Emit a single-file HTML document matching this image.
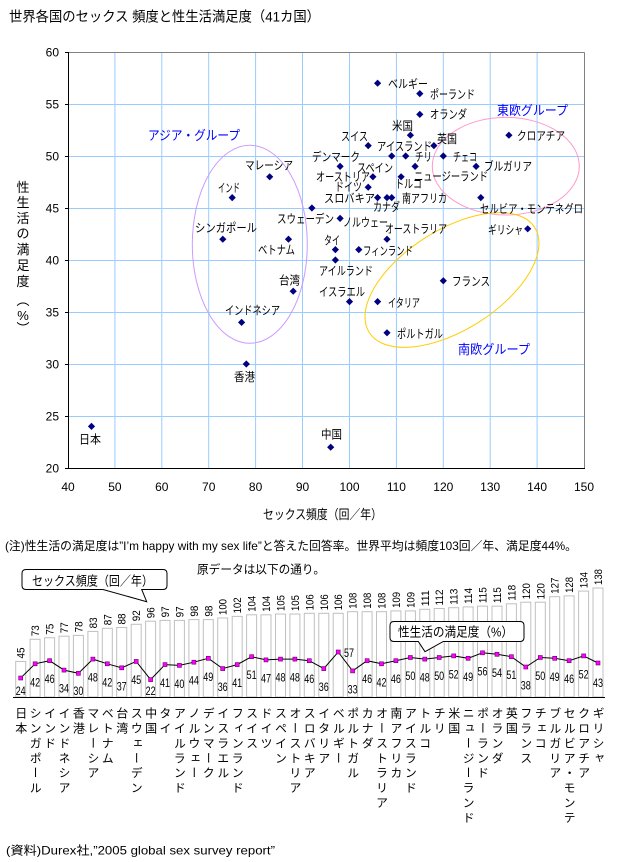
<!DOCTYPE html>
<html><head><meta charset="utf-8"><style>
html,body{margin:0;padding:0;background:#fff}
#w{position:relative;width:621px;height:862px;overflow:hidden;background:#fff;font-family:"Liberation Sans","Noto Sans CJK JP",sans-serif}
svg{position:absolute;left:0;top:0}
.cn{position:absolute;top:707px;width:14px;height:120px;overflow:hidden;writing-mode:vertical-rl;white-space:nowrap;font-size:12px;line-height:14px;letter-spacing:2.9px;color:#000;font-family:"Liberation Sans","Noto Sans CJK JP",sans-serif}
</style></head><body><div id="w">
<svg width="621" height="862" viewBox="0 0 621 862" xmlns="http://www.w3.org/2000/svg" font-family="Liberation Sans, Noto Sans CJK JP, sans-serif">
<defs><path id="dm" d="M0,-3.6 L3.6,0 L0,3.6 L-3.6,0 Z" fill="#000080"/></defs>
<text x="9" y="21.3" font-size="14" textLength="311" lengthAdjust="spacingAndGlyphs">世界各国のセックス 頻度と性生活満足度（41カ国）</text>
<!-- grid -->
<g stroke="#99ccff" stroke-width="1">
<line x1="114.9" y1="52" x2="114.9" y2="468"/><line x1="161.8" y1="52" x2="161.8" y2="468"/><line x1="208.7" y1="52" x2="208.7" y2="468"/><line x1="255.6" y1="52" x2="255.6" y2="468"/><line x1="302.5" y1="52" x2="302.5" y2="468"/><line x1="349.5" y1="52" x2="349.5" y2="468"/><line x1="396.4" y1="52" x2="396.4" y2="468"/><line x1="443.3" y1="52" x2="443.3" y2="468"/><line x1="490.2" y1="52" x2="490.2" y2="468"/><line x1="537.1" y1="52" x2="537.1" y2="468"/>
<line x1="68" y1="104.5" x2="584" y2="104.5"/><line x1="68" y1="156.5" x2="584" y2="156.5"/><line x1="68" y1="208.5" x2="584" y2="208.5"/><line x1="68" y1="260.5" x2="584" y2="260.5"/><line x1="68" y1="312.5" x2="584" y2="312.5"/><line x1="68" y1="364.5" x2="584" y2="364.5"/><line x1="68" y1="416.5" x2="584" y2="416.5"/>
</g>
<g stroke="#808080" stroke-width="1"><line x1="68" y1="52.5" x2="584.5" y2="52.5"/><line x1="584.5" y1="52.5" x2="584.5" y2="468"/></g>
<g stroke="#000" stroke-width="1">
<line x1="68.5" y1="52" x2="68.5" y2="469"/><line x1="68" y1="468.5" x2="585" y2="468.5"/>
<line x1="65" y1="52.5" x2="68" y2="52.5"/><line x1="65" y1="104.5" x2="68" y2="104.5"/><line x1="65" y1="156.5" x2="68" y2="156.5"/><line x1="65" y1="208.5" x2="68" y2="208.5"/><line x1="65" y1="260.5" x2="68" y2="260.5"/><line x1="65" y1="312.5" x2="68" y2="312.5"/><line x1="65" y1="364.5" x2="68" y2="364.5"/><line x1="65" y1="416.5" x2="68" y2="416.5"/><line x1="65" y1="468.5" x2="68" y2="468.5"/>
</g>
<g font-size="12" text-anchor="end">
<text x="59" y="56.3">60</text><text x="59" y="108.3">55</text><text x="59" y="160.3">50</text><text x="59" y="212.3">45</text><text x="59" y="264.3">40</text><text x="59" y="316.3">35</text><text x="59" y="368.3">30</text><text x="59" y="420.3">25</text><text x="59" y="472.3">20</text>
</g>
<g font-size="12" text-anchor="middle">
<text x="68" y="491">40</text><text x="114.9" y="491">50</text><text x="161.8" y="491">60</text><text x="208.7" y="491">70</text><text x="255.6" y="491">80</text><text x="302.5" y="491">90</text><text x="349.5" y="491">100</text><text x="396.4" y="491">110</text><text x="443.3" y="491">120</text><text x="490.2" y="491">130</text><text x="537.1" y="491">140</text><text x="584" y="491">150</text>
</g>
<text x="263" y="519" font-size="13" textLength="119" lengthAdjust="spacingAndGlyphs">セックス頻度（回／年）</text>
<g font-size="13" text-anchor="middle">
<text x="23" y="192">性</text><text x="23" y="207">生</text><text x="23" y="223">活</text><text x="23" y="238">の</text><text x="23" y="254">満</text><text x="23" y="270">足</text><text x="23" y="286">度</text><text x="23" y="305">︵</text><text x="23" y="320">%</text><text x="23" y="333">︶</text>
</g>
<!-- ellipses -->
<g fill="none" stroke-width="1">
<ellipse cx="249.8" cy="244.3" rx="57.5" ry="99" stroke="#cc99ff"/>
<ellipse cx="505.8" cy="166.2" rx="73.5" ry="48.8" stroke="#ff99cc"/>
<ellipse cx="452" cy="280" rx="98" ry="50" transform="rotate(-32.4 452 280)" stroke="#ffcc00"/>
</g>
<!-- points -->
<g>
<use href="#dm" x="91.5" y="426.4"/><use href="#dm" x="222.8" y="239.2"/><use href="#dm" x="232.2" y="197.6"/><use href="#dm" x="241.6" y="322.4"/><use href="#dm" x="246.3" y="364"/><use href="#dm" x="269.7" y="176.8"/><use href="#dm" x="288.5" y="239.2"/><use href="#dm" x="293.2" y="291.2"/><use href="#dm" x="311.9" y="208"/><use href="#dm" x="330.7" y="447.2"/><use href="#dm" x="335.4" y="249.6"/><use href="#dm" x="335.4" y="260"/><use href="#dm" x="340.1" y="218.4"/><use href="#dm" x="340.1" y="166.4"/><use href="#dm" x="349.5" y="301.6"/><use href="#dm" x="358.8" y="249.6"/><use href="#dm" x="368.2" y="145.6"/><use href="#dm" x="368.2" y="187.2"/><use href="#dm" x="372.9" y="176.8"/><use href="#dm" x="377.6" y="197.6"/><use href="#dm" x="377.6" y="301.6"/><use href="#dm" x="377.6" y="83.2"/><use href="#dm" x="387" y="332.8"/><use href="#dm" x="387" y="197.6"/><use href="#dm" x="387" y="239.2"/><use href="#dm" x="391.7" y="197.6"/><use href="#dm" x="391.7" y="156"/><use href="#dm" x="401.1" y="176.8"/><use href="#dm" x="405.7" y="156"/><use href="#dm" x="410.4" y="135.2"/><use href="#dm" x="415.1" y="166.4"/><use href="#dm" x="419.8" y="93.6"/><use href="#dm" x="419.8" y="114.4"/><use href="#dm" x="433.9" y="145.6"/><use href="#dm" x="443.3" y="280.8"/><use href="#dm" x="443.3" y="156"/><use href="#dm" x="476.1" y="166.4"/><use href="#dm" x="480.8" y="197.6"/><use href="#dm" x="508.9" y="135.2"/><use href="#dm" x="527.7" y="228.8"/>
</g>
<g font-size="12" lengthAdjust="spacingAndGlyphs">
<text x="388" y="87.8" textLength="40" lengthAdjust="spacingAndGlyphs">ベルギー</text>
<text x="430" y="98.5" textLength="45" lengthAdjust="spacingAndGlyphs">ポーランド</text>
<text x="430" y="118.5" textLength="37" lengthAdjust="spacingAndGlyphs">オランダ</text>
<text x="392" y="129.8" textLength="21" lengthAdjust="spacingAndGlyphs">米国</text>
<text x="341" y="140.5" textLength="27" lengthAdjust="spacingAndGlyphs">スイス</text>
<text x="377" y="150.5" textLength="55" lengthAdjust="spacingAndGlyphs">アイスランド</text>
<text x="437" y="143.2" textLength="20" lengthAdjust="spacingAndGlyphs">英国</text>
<text x="517" y="139.8" textLength="48" lengthAdjust="spacingAndGlyphs">クロアチア</text>
<text x="312" y="161.2" textLength="48" lengthAdjust="spacingAndGlyphs">デンマーク</text>
<text x="415" y="161.2" textLength="17" lengthAdjust="spacingAndGlyphs">チリ</text>
<text x="453" y="161.2" textLength="24" lengthAdjust="spacingAndGlyphs">チェコ</text>
<text x="357" y="171.8" textLength="36" lengthAdjust="spacingAndGlyphs">スペイン</text>
<text x="484" y="170.5" textLength="48" lengthAdjust="spacingAndGlyphs">ブルガリア</text>
<text x="316" y="181.2" textLength="54" lengthAdjust="spacingAndGlyphs">オーストリア</text>
<text x="414" y="180.5" textLength="74" lengthAdjust="spacingAndGlyphs">ニュージーランド</text>
<text x="395" y="187.8" textLength="27" lengthAdjust="spacingAndGlyphs">トルコ</text>
<text x="335" y="191.2" textLength="27" lengthAdjust="spacingAndGlyphs">ドイツ</text>
<text x="324" y="202.5" textLength="51" lengthAdjust="spacingAndGlyphs">スロバキア</text>
<text x="402" y="202.5" textLength="45" lengthAdjust="spacingAndGlyphs">南アフリカ</text>
<text x="373" y="211.2" textLength="27" lengthAdjust="spacingAndGlyphs">カナダ</text>
<text x="480" y="212.8" textLength="103" lengthAdjust="spacingAndGlyphs">セルビア・モンテネグロ</text>
<text x="277" y="222.8" textLength="57" lengthAdjust="spacingAndGlyphs">スウェーデン</text>
<text x="343" y="226.5" textLength="45" lengthAdjust="spacingAndGlyphs">ノルウェー</text>
<text x="385" y="232.8" textLength="62" lengthAdjust="spacingAndGlyphs">オーストラリア</text>
<text x="488" y="233.8" textLength="35" lengthAdjust="spacingAndGlyphs">ギリシャ</text>
<text x="324" y="244.5" textLength="16" lengthAdjust="spacingAndGlyphs">タイ</text>
<text x="363" y="255.2" textLength="50" lengthAdjust="spacingAndGlyphs">フィンランド</text>
<text x="319" y="275.2" textLength="54" lengthAdjust="spacingAndGlyphs">アイルランド</text>
<text x="245" y="169.5" textLength="48" lengthAdjust="spacingAndGlyphs">マレーシア</text>
<text x="218" y="192.2" textLength="22" lengthAdjust="spacingAndGlyphs">インド</text>
<text x="195" y="232.2" textLength="62" lengthAdjust="spacingAndGlyphs">シンガポール</text>
<text x="258" y="253.8" textLength="37" lengthAdjust="spacingAndGlyphs">ベトナム</text>
<text x="279" y="284.5" textLength="21" lengthAdjust="spacingAndGlyphs">台湾</text>
<text x="225" y="314.5" textLength="55" lengthAdjust="spacingAndGlyphs">インドネシア</text>
<text x="234" y="381.2" textLength="21" lengthAdjust="spacingAndGlyphs">香港</text>
<text x="79" y="443.5" textLength="22" lengthAdjust="spacingAndGlyphs">日本</text>
<text x="452" y="285.5" textLength="38" lengthAdjust="spacingAndGlyphs">フランス</text>
<text x="319" y="296.2" textLength="46" lengthAdjust="spacingAndGlyphs">イスラエル</text>
<text x="388" y="306.8" textLength="32" lengthAdjust="spacingAndGlyphs">イタリア</text>
<text x="397" y="337.8" textLength="46" lengthAdjust="spacingAndGlyphs">ポルトガル</text>
<text x="321" y="438.5" textLength="21" lengthAdjust="spacingAndGlyphs">中国</text>
</g>
<g font-size="13" fill="#0000ff">
<text x="148" y="140" textLength="92" lengthAdjust="spacingAndGlyphs">アジア・グループ</text>
<text x="497" y="115" textLength="71" lengthAdjust="spacingAndGlyphs">東欧グループ</text>
<text x="458" y="354" textLength="72" lengthAdjust="spacingAndGlyphs">南欧グループ</text>
</g>
<!-- notes -->
<text x="5" y="550" font-size="12" textLength="572" lengthAdjust="spacingAndGlyphs">(注)性生活の満足度は”I’m happy with my sex life”と答えた回答率。世界平均は頻度103回／年、満足度44%。</text>
<text x="197" y="573.5" font-size="12" textLength="128" lengthAdjust="spacingAndGlyphs">原データは以下の通り。</text>
<text x="6" y="854.5" font-size="12" textLength="269" lengthAdjust="spacingAndGlyphs">(資料)Durex社,”2005 global sex survey report”</text>
<!-- bars -->
<g fill="#fff" stroke="#c0c0c0" stroke-width="1">
<rect x="15.7" y="661.45" width="10" height="35.55"/><rect x="30.1" y="639.3" width="10" height="57.7"/><rect x="44.6" y="637.75" width="10" height="59.25"/><rect x="59" y="636.2" width="10" height="60.8"/><rect x="73.4" y="635.4" width="10" height="61.6"/><rect x="87.9" y="631.4" width="10" height="65.6"/><rect x="102.3" y="628.3" width="10" height="68.7"/><rect x="116.7" y="627.5" width="10" height="69.5"/><rect x="131.2" y="624.3" width="10" height="72.7"/><rect x="145.6" y="621.2" width="10" height="75.8"/><rect x="160" y="620.4" width="10" height="76.6"/><rect x="174.4" y="620.4" width="10" height="76.6"/><rect x="188.9" y="619.6" width="10" height="77.4"/><rect x="203.3" y="619.6" width="10" height="77.4"/><rect x="217.7" y="618" width="10" height="79"/><rect x="232.2" y="616.4" width="10" height="80.6"/><rect x="246.6" y="614.8" width="10" height="82.2"/><rect x="261" y="614.8" width="10" height="82.2"/><rect x="275.5" y="614.05" width="10" height="82.95"/><rect x="289.9" y="614.05" width="10" height="82.95"/><rect x="304.3" y="613.3" width="10" height="83.7"/><rect x="318.8" y="613.3" width="10" height="83.7"/><rect x="333.2" y="613.3" width="10" height="83.7"/><rect x="347.6" y="611.7" width="10" height="85.3"/><rect x="362.1" y="611.7" width="10" height="85.3"/><rect x="376.5" y="611.7" width="10" height="85.3"/><rect x="390.9" y="610.9" width="10" height="86.1"/><rect x="405.4" y="610.9" width="10" height="86.1"/><rect x="419.8" y="609.3" width="10" height="87.7"/><rect x="434.2" y="608.5" width="10" height="88.5"/><rect x="448.7" y="607.7" width="10" height="89.3"/><rect x="463.1" y="606.9" width="10" height="90.1"/><rect x="477.5" y="606.15" width="10" height="90.85"/><rect x="492" y="606.15" width="10" height="90.85"/><rect x="506.4" y="603.8" width="10" height="93.2"/><rect x="520.8" y="602.2" width="10" height="94.8"/><rect x="535.3" y="602.2" width="10" height="94.8"/><rect x="549.7" y="596.7" width="10" height="100.3"/><rect x="564.1" y="595.9" width="10" height="101.1"/><rect x="578.6" y="591.1" width="10" height="105.9"/><rect x="593" y="588" width="10" height="109"/>
</g>
<line x1="13" y1="697.5" x2="605" y2="697.5" stroke="#000" stroke-width="1"/>
<!-- bar labels -->
<g font-size="11">
<text transform="translate(24.7,658.45) rotate(-90)" textLength="11" lengthAdjust="spacingAndGlyphs">45</text>
<text transform="translate(39.1,636.3) rotate(-90)" textLength="11" lengthAdjust="spacingAndGlyphs">73</text>
<text transform="translate(53.6,634.75) rotate(-90)" textLength="11" lengthAdjust="spacingAndGlyphs">75</text>
<text transform="translate(68,633.2) rotate(-90)" textLength="11" lengthAdjust="spacingAndGlyphs">77</text>
<text transform="translate(82.4,632.4) rotate(-90)" textLength="11" lengthAdjust="spacingAndGlyphs">78</text>
<text transform="translate(96.9,628.4) rotate(-90)" textLength="11" lengthAdjust="spacingAndGlyphs">83</text>
<text transform="translate(111.3,625.3) rotate(-90)" textLength="11" lengthAdjust="spacingAndGlyphs">87</text>
<text transform="translate(125.7,624.5) rotate(-90)" textLength="11" lengthAdjust="spacingAndGlyphs">88</text>
<text transform="translate(140.2,621.3) rotate(-90)" textLength="11" lengthAdjust="spacingAndGlyphs">92</text>
<text transform="translate(154.6,618.2) rotate(-90)" textLength="11" lengthAdjust="spacingAndGlyphs">96</text>
<text transform="translate(169,617.4) rotate(-90)" textLength="11" lengthAdjust="spacingAndGlyphs">97</text>
<text transform="translate(183.4,617.4) rotate(-90)" textLength="11" lengthAdjust="spacingAndGlyphs">97</text>
<text transform="translate(197.9,616.6) rotate(-90)" textLength="11" lengthAdjust="spacingAndGlyphs">98</text>
<text transform="translate(212.3,616.6) rotate(-90)" textLength="11" lengthAdjust="spacingAndGlyphs">98</text>
<text transform="translate(226.7,615) rotate(-90)" textLength="16" lengthAdjust="spacingAndGlyphs">100</text>
<text transform="translate(241.2,613.4) rotate(-90)" textLength="16" lengthAdjust="spacingAndGlyphs">102</text>
<text transform="translate(255.6,611.8) rotate(-90)" textLength="16" lengthAdjust="spacingAndGlyphs">104</text>
<text transform="translate(270,611.8) rotate(-90)" textLength="16" lengthAdjust="spacingAndGlyphs">104</text>
<text transform="translate(284.5,611.05) rotate(-90)" textLength="16" lengthAdjust="spacingAndGlyphs">105</text>
<text transform="translate(298.9,611.05) rotate(-90)" textLength="16" lengthAdjust="spacingAndGlyphs">105</text>
<text transform="translate(313.3,610.3) rotate(-90)" textLength="16" lengthAdjust="spacingAndGlyphs">106</text>
<text transform="translate(327.8,610.3) rotate(-90)" textLength="16" lengthAdjust="spacingAndGlyphs">106</text>
<text transform="translate(342.2,610.3) rotate(-90)" textLength="16" lengthAdjust="spacingAndGlyphs">106</text>
<text transform="translate(356.6,608.7) rotate(-90)" textLength="16" lengthAdjust="spacingAndGlyphs">108</text>
<text transform="translate(371.1,608.7) rotate(-90)" textLength="16" lengthAdjust="spacingAndGlyphs">108</text>
<text transform="translate(385.5,608.7) rotate(-90)" textLength="16" lengthAdjust="spacingAndGlyphs">108</text>
<text transform="translate(399.9,607.9) rotate(-90)" textLength="16" lengthAdjust="spacingAndGlyphs">109</text>
<text transform="translate(414.4,607.9) rotate(-90)" textLength="16" lengthAdjust="spacingAndGlyphs">109</text>
<text transform="translate(428.8,606.3) rotate(-90)" textLength="16" lengthAdjust="spacingAndGlyphs">111</text>
<text transform="translate(443.2,605.5) rotate(-90)" textLength="16" lengthAdjust="spacingAndGlyphs">112</text>
<text transform="translate(457.7,604.7) rotate(-90)" textLength="16" lengthAdjust="spacingAndGlyphs">113</text>
<text transform="translate(472.1,603.9) rotate(-90)" textLength="16" lengthAdjust="spacingAndGlyphs">114</text>
<text transform="translate(486.5,603.15) rotate(-90)" textLength="16" lengthAdjust="spacingAndGlyphs">115</text>
<text transform="translate(501,603.15) rotate(-90)" textLength="16" lengthAdjust="spacingAndGlyphs">115</text>
<text transform="translate(515.4,600.8) rotate(-90)" textLength="16" lengthAdjust="spacingAndGlyphs">118</text>
<text transform="translate(529.8,599.2) rotate(-90)" textLength="16" lengthAdjust="spacingAndGlyphs">120</text>
<text transform="translate(544.3,599.2) rotate(-90)" textLength="16" lengthAdjust="spacingAndGlyphs">120</text>
<text transform="translate(558.7,593.7) rotate(-90)" textLength="16" lengthAdjust="spacingAndGlyphs">127</text>
<text transform="translate(573.1,592.9) rotate(-90)" textLength="16" lengthAdjust="spacingAndGlyphs">128</text>
<text transform="translate(587.6,588.1) rotate(-90)" textLength="16" lengthAdjust="spacingAndGlyphs">134</text>
<text transform="translate(602,585) rotate(-90)" textLength="16" lengthAdjust="spacingAndGlyphs">138</text>
</g>
<!-- line -->
<polyline fill="none" stroke="#000" stroke-width="1" points="20.7,678 35.1,663.8 49.6,660.7 64,670.1 78.4,673.3 92.9,659.1 107.3,663.8 121.7,667.8 136.2,661.45 150.6,679.6 165,664.6 179.4,665.4 193.9,662.2 208.3,658.3 222.7,668.6 237.2,664.6 251.6,656.7 266,659.9 280.5,659.1 294.9,659.1 309.3,660.7 323.8,668.6 338.2,652 352.6,670.9 367.1,660.7 381.5,663.8 395.9,660.7 410.4,657.5 424.8,659.1 439.2,657.5 453.7,655.9 468.1,658.3 482.5,652.8 497,654.3 511.4,656.7 525.8,667 540.3,657.5 554.7,658.3 569.1,660.7 583.6,655.9 598,663"/>
<g fill="#ff00ff" stroke="#660066" stroke-width="0.6">
<rect x="18.7" y="676" width="4" height="4"/><rect x="33.1" y="661.8" width="4" height="4"/><rect x="47.6" y="658.7" width="4" height="4"/><rect x="62" y="668.1" width="4" height="4"/><rect x="76.4" y="671.3" width="4" height="4"/><rect x="90.9" y="657.1" width="4" height="4"/><rect x="105.3" y="661.8" width="4" height="4"/><rect x="119.7" y="665.8" width="4" height="4"/><rect x="134.2" y="659.45" width="4" height="4"/><rect x="148.6" y="677.6" width="4" height="4"/><rect x="163" y="662.6" width="4" height="4"/><rect x="177.4" y="663.4" width="4" height="4"/><rect x="191.9" y="660.2" width="4" height="4"/><rect x="206.3" y="656.3" width="4" height="4"/><rect x="220.7" y="666.6" width="4" height="4"/><rect x="235.2" y="662.6" width="4" height="4"/><rect x="249.6" y="654.7" width="4" height="4"/><rect x="264" y="657.9" width="4" height="4"/><rect x="278.5" y="657.1" width="4" height="4"/><rect x="292.9" y="657.1" width="4" height="4"/><rect x="307.3" y="658.7" width="4" height="4"/><rect x="321.8" y="666.6" width="4" height="4"/><rect x="336.2" y="650" width="4" height="4"/><rect x="350.6" y="668.9" width="4" height="4"/><rect x="365.1" y="658.7" width="4" height="4"/><rect x="379.5" y="661.8" width="4" height="4"/><rect x="393.9" y="658.7" width="4" height="4"/><rect x="408.4" y="655.5" width="4" height="4"/><rect x="422.8" y="657.1" width="4" height="4"/><rect x="437.2" y="655.5" width="4" height="4"/><rect x="451.7" y="653.9" width="4" height="4"/><rect x="466.1" y="656.3" width="4" height="4"/><rect x="480.5" y="650.8" width="4" height="4"/><rect x="495" y="652.3" width="4" height="4"/><rect x="509.4" y="654.7" width="4" height="4"/><rect x="523.8" y="665" width="4" height="4"/><rect x="538.3" y="655.5" width="4" height="4"/><rect x="552.7" y="656.3" width="4" height="4"/><rect x="567.1" y="658.7" width="4" height="4"/><rect x="581.6" y="653.9" width="4" height="4"/><rect x="596" y="661" width="4" height="4"/>
</g>
<g font-size="12" text-anchor="middle">
<text x="20.7" y="695" textLength="10" lengthAdjust="spacingAndGlyphs">24</text>
<text x="35.1" y="686.3" textLength="10" lengthAdjust="spacingAndGlyphs">42</text>
<text x="49.6" y="683.2" textLength="10" lengthAdjust="spacingAndGlyphs">46</text>
<text x="64" y="692.6" textLength="10" lengthAdjust="spacingAndGlyphs">34</text>
<text x="78.4" y="695" textLength="10" lengthAdjust="spacingAndGlyphs">30</text>
<text x="92.9" y="681.6" textLength="10" lengthAdjust="spacingAndGlyphs">48</text>
<text x="107.3" y="686.3" textLength="10" lengthAdjust="spacingAndGlyphs">42</text>
<text x="121.7" y="690.3" textLength="10" lengthAdjust="spacingAndGlyphs">37</text>
<text x="136.2" y="684" textLength="10" lengthAdjust="spacingAndGlyphs">45</text>
<text x="150.6" y="695" textLength="10" lengthAdjust="spacingAndGlyphs">22</text>
<text x="165" y="687.1" textLength="10" lengthAdjust="spacingAndGlyphs">41</text>
<text x="179.4" y="687.9" textLength="10" lengthAdjust="spacingAndGlyphs">40</text>
<text x="193.9" y="684.7" textLength="10" lengthAdjust="spacingAndGlyphs">44</text>
<text x="208.3" y="680.8" textLength="10" lengthAdjust="spacingAndGlyphs">49</text>
<text x="222.7" y="691.1" textLength="10" lengthAdjust="spacingAndGlyphs">36</text>
<text x="237.2" y="687.1" textLength="10" lengthAdjust="spacingAndGlyphs">41</text>
<text x="251.6" y="679.2" textLength="10" lengthAdjust="spacingAndGlyphs">51</text>
<text x="266" y="682.4" textLength="10" lengthAdjust="spacingAndGlyphs">47</text>
<text x="280.5" y="681.6" textLength="10" lengthAdjust="spacingAndGlyphs">48</text>
<text x="294.9" y="681.6" textLength="10" lengthAdjust="spacingAndGlyphs">48</text>
<text x="309.3" y="683.2" textLength="10" lengthAdjust="spacingAndGlyphs">46</text>
<text x="323.8" y="691.1" textLength="10" lengthAdjust="spacingAndGlyphs">36</text>
<text x="349" y="657" textLength="10" lengthAdjust="spacingAndGlyphs">57</text>
<text x="352.6" y="693.4" textLength="10" lengthAdjust="spacingAndGlyphs">33</text>
<text x="367.1" y="683.2" textLength="10" lengthAdjust="spacingAndGlyphs">46</text>
<text x="381.5" y="686.3" textLength="10" lengthAdjust="spacingAndGlyphs">42</text>
<text x="395.9" y="683.2" textLength="10" lengthAdjust="spacingAndGlyphs">46</text>
<text x="410.4" y="680" textLength="10" lengthAdjust="spacingAndGlyphs">50</text>
<text x="424.8" y="681.6" textLength="10" lengthAdjust="spacingAndGlyphs">48</text>
<text x="439.2" y="680" textLength="10" lengthAdjust="spacingAndGlyphs">50</text>
<text x="453.7" y="678.4" textLength="10" lengthAdjust="spacingAndGlyphs">52</text>
<text x="468.1" y="680.8" textLength="10" lengthAdjust="spacingAndGlyphs">49</text>
<text x="482.5" y="675.3" textLength="10" lengthAdjust="spacingAndGlyphs">56</text>
<text x="497" y="676.8" textLength="10" lengthAdjust="spacingAndGlyphs">54</text>
<text x="511.4" y="679.2" textLength="10" lengthAdjust="spacingAndGlyphs">51</text>
<text x="525.8" y="689.5" textLength="10" lengthAdjust="spacingAndGlyphs">38</text>
<text x="540.3" y="680" textLength="10" lengthAdjust="spacingAndGlyphs">50</text>
<text x="554.7" y="680.8" textLength="10" lengthAdjust="spacingAndGlyphs">49</text>
<text x="569.1" y="683.2" textLength="10" lengthAdjust="spacingAndGlyphs">46</text>
<text x="583.6" y="678.4" textLength="10" lengthAdjust="spacingAndGlyphs">52</text>
<text x="598" y="687" textLength="10" lengthAdjust="spacingAndGlyphs">43</text>
</g>
<!-- callouts -->
<path d="M26,569.5 H163 Q167,569.5 167,573.5 V585.5 Q167,589.5 163,589.5 H141.7 L146.7,601.7 L103,589.5 H26 Q22,589.5 22,585.5 V573.5 Q22,569.5 26,569.5 Z" fill="#fff" stroke="#000" stroke-width="1"/>
<text x="32" y="585.3" font-size="13" textLength="121" lengthAdjust="spacingAndGlyphs">セックス頻度（回／年）</text>
<path d="M394,621.5 H520 Q524,621.5 524,625.5 V637.5 Q524,641.5 520,641.5 H443.3 L425,651.7 L418.3,641.5 H394 Q390,641.5 390,637.5 V625.5 Q390,621.5 394,621.5 Z" fill="#fff" stroke="#000" stroke-width="1"/>
<text x="398" y="636.3" font-size="13" textLength="115" lengthAdjust="spacingAndGlyphs">性生活の満足度（%）</text>
</svg>
<div class="cn" style="left:13.7px">日本</div>
<div class="cn" style="left:28.1px">シンガポール</div>
<div class="cn" style="left:42.6px">インド</div>
<div class="cn" style="left:57px">インドネシア</div>
<div class="cn" style="left:71.4px">香港</div>
<div class="cn" style="left:85.9px">マレーシア</div>
<div class="cn" style="left:100.3px">ベトナム</div>
<div class="cn" style="left:114.7px">台湾</div>
<div class="cn" style="left:129.2px">スウェーデン</div>
<div class="cn" style="left:143.6px">中国</div>
<div class="cn" style="left:158px">タイ</div>
<div class="cn" style="left:172.4px">アイルランド</div>
<div class="cn" style="left:186.9px">ノルウェー</div>
<div class="cn" style="left:201.3px">デンマーク</div>
<div class="cn" style="left:215.7px">イスラエル</div>
<div class="cn" style="left:230.2px">フィンランド</div>
<div class="cn" style="left:244.6px">スイス</div>
<div class="cn" style="left:259px">ドイツ</div>
<div class="cn" style="left:273.5px">スペイン</div>
<div class="cn" style="left:287.9px">オーストリア</div>
<div class="cn" style="left:302.3px">スロバキア</div>
<div class="cn" style="left:316.8px">イタリア</div>
<div class="cn" style="left:331.2px">ベルギー</div>
<div class="cn" style="left:345.6px">ポルトガル</div>
<div class="cn" style="left:360.1px">カナダ</div>
<div class="cn" style="left:374.5px">オーストラリア</div>
<div class="cn" style="left:388.9px">南アフリカ</div>
<div class="cn" style="left:403.4px">アイスランド</div>
<div class="cn" style="left:417.8px">トルコ</div>
<div class="cn" style="left:432.2px">チリ</div>
<div class="cn" style="left:446.7px">米国</div>
<div class="cn" style="left:461.1px">ニュージーランド</div>
<div class="cn" style="left:475.5px">ポーランド</div>
<div class="cn" style="left:490px">オランダ</div>
<div class="cn" style="left:504.4px">英国</div>
<div class="cn" style="left:518.8px">フランス</div>
<div class="cn" style="left:533.3px">チェコ</div>
<div class="cn" style="left:547.7px">ブルガリア</div>
<div class="cn" style="left:562.1px">セルビア・モンテネグロ</div>
<div class="cn" style="left:576.6px">クロアチア</div>
<div class="cn" style="left:591px">ギリシャ</div>
</div></body></html>
